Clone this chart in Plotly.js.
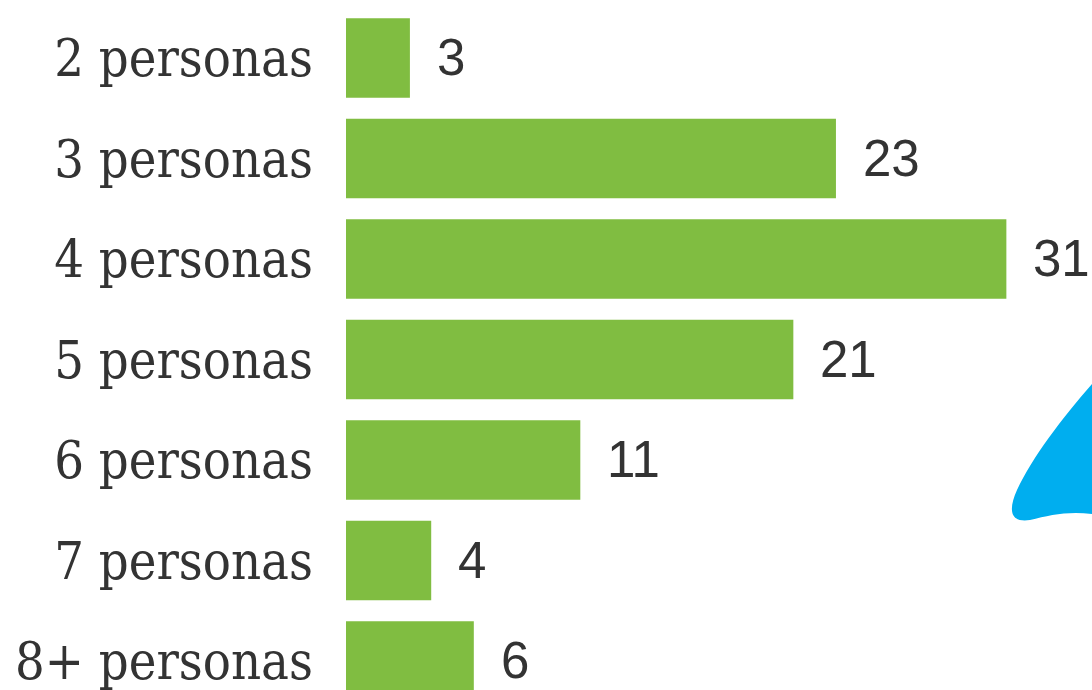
<!DOCTYPE html>
<html>
<head>
<meta charset="utf-8">
<script src="https://cdn.plot.ly/plotly-3.0.1.min.js"></script>
<style>html,body{margin:0;padding:0;background:#fff;}#chart{width:1092px;height:690px;}</style>
</head>
<body>
<div id="chart"></div>
<script>
const categories = ["2 personas", "3 personas", "4 personas", "5 personas", "6 personas", "7 personas", "8+ personas"];
const values = [3, 23, 31, 21, 11, 4, 6];
const valueLabels = ["3", "23", "31", "21", "11", "4", "6"];

const W = 1092, H = 690, L = 346;
const px = x => (x - L) / (W - L);
const py = y => 1 - y / H;
const blob = "M " + px(1092) + "," + py(384) +
  " C " + px(1062) + "," + py(418) + " " + px(1032) + "," + py(458) + " " + px(1017) + "," + py(490) +
  " C " + px(1008) + "," + py(510) + " " + px(1010) + "," + py(523) + " " + px(1030) + "," + py(520) +
  " C " + px(1050) + "," + py(515) + " " + px(1068) + "," + py(511) + " " + px(1092) + "," + py(514) + " Z";

const trace = {
  type: "bar",
  orientation: "h",
  y: categories,
  x: values,
  marker: {color: "#80bd41", line: {width: 0}},
  width: 0.79,
  hoverinfo: "none"
};

const annotations = categories.map((c, i) => ({
  x: values[i], y: c, xref: "x", yref: "y",
  text: valueLabels[i], showarrow: false,
  xanchor: "left", yanchor: "middle", xshift: 25, yshift: 0,
  font: {family: "Liberation Sans, Arial, sans-serif", size: 51, color: "#333333"}
}));

const layout = {
  width: W, height: H,
  margin: {l: L, r: 0, t: 0, b: 0, pad: 0},
  paper_bgcolor: "#ffffff",
  plot_bgcolor: "#ffffff",
  showlegend: false,
  xaxis: {range: [0, 35.02], visible: false, fixedrange: true},
  yaxis: {
    type: "category",
    range: [6.289, -0.577],
    showgrid: false, zeroline: false, showline: false, ticks: "",
    ticklabelstandoff: 32,
    tickfont: {family: "DejaVu Serif Condensed, DejaVu Serif, serif", size: 52, color: "#333333"},
    fixedrange: true
  },
  annotations: annotations,
  shapes: [{type: "path", xref: "paper", yref: "paper", path: blob, fillcolor: "#00aeef", line: {width: 0}, layer: "above"}]
};

Plotly.newPlot("chart", [trace], layout, {displayModeBar: false, staticPlot: true});
</script>
</body>
</html>
